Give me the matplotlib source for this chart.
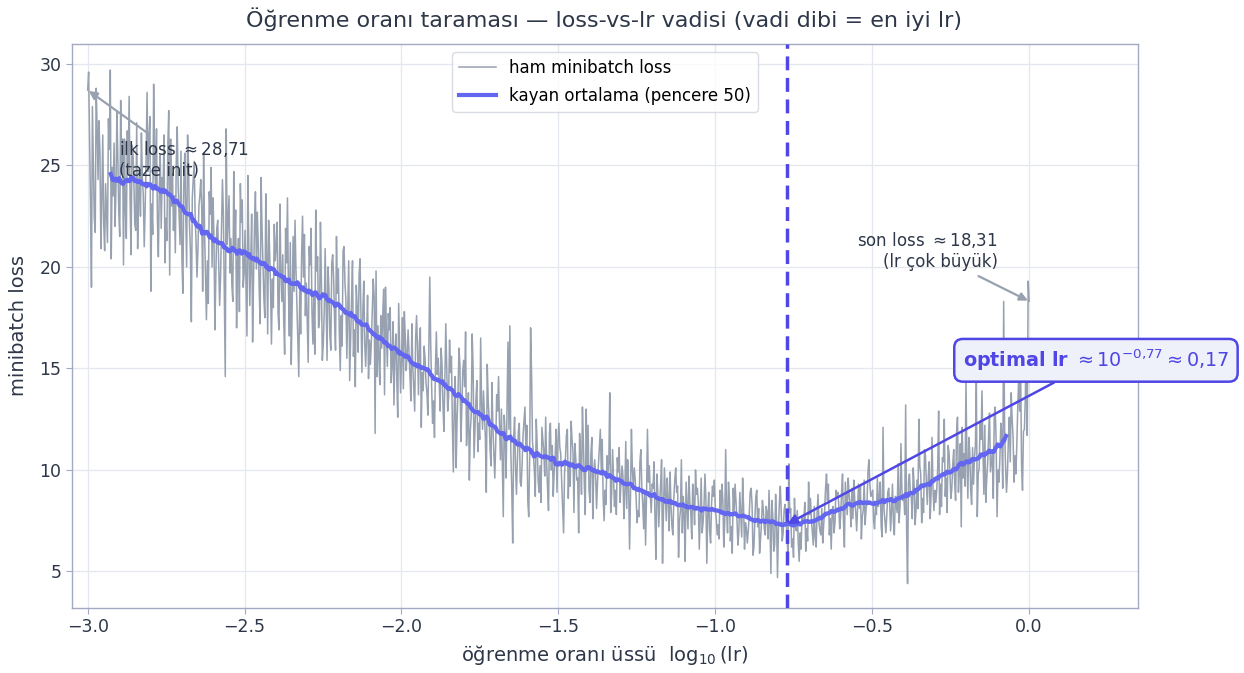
import numpy as np
import matplotlib
matplotlib.use("Agg")
import matplotlib.pyplot as plt

# raw minibatch loss along the lr sweep (log10 lr from -3 to 0)
loss_raw = [
    28.71, 29.6, 26.4, 23.1, 19.0, 27.9, 25.2, 22.4, 21.7, 28.8, 26.9, 24.3, 27.2, 25.6, 20.9, 23.4, 26.5, 22.1, 20.8, 24.1,
    22.6, 21.2, 27.3, 25.8, 29.7, 20.4, 24.9, 23.5, 26.1, 22.0, 23.8, 27.6, 25.4, 22.7, 21.5, 28.2, 24.6, 26.3, 20.1, 26.3,
    22.8, 21.4, 26.7, 25.1, 28.4, 23.3, 20.6, 26.0, 25.7, 24.2, 22.1, 21.8, 27.1, 20.9, 23.6, 24.8, 22.5, 26.6, 24.4, 23.5,
    21.0, 22.9, 25.3, 28.6, 24.7, 26.2, 27.4, 18.8, 23.1, 21.6, 29.0, 25.0, 24.1, 26.8, 22.3, 20.5, 23.9, 25.5, 21.9, 24.4,
    23.8, 26.5, 20.2, 22.4, 21.3, 25.9, 27.7, 19.6, 26.3, 23.0, 24.6, 21.8, 23.5, 20.7, 25.2, 26.9, 24.0, 22.6, 21.1, 25.7,
    20.4, 18.7, 24.1, 25.6, 22.9, 20.0, 26.5, 25.0, 22.1, 20.8, 17.3, 23.4, 24.3, 25.2, 22.6, 21.2, 19.5, 20.9, 23.0, 23.5,
    24.3, 22.9, 18.8, 25.6, 21.8, 19.5, 17.4, 20.3, 18.2, 23.7, 22.6, 24.9, 20.0, 23.4, 21.4, 16.9, 19.6, 21.9, 22.3, 20.1,
    18.1, 19.5, 21.8, 24.3, 22.6, 18.8, 14.6, 26.8, 21.1, 22.3, 23.5, 19.7, 21.4, 19.1, 18.3, 24.7, 20.9, 22.8, 17.0, 20.2,
    21.4, 17.8, 24.1, 22.2, 23.3, 19.0, 19.7, 21.8, 19.3, 16.6, 24.5, 20.9, 18.1, 20.2, 22.6, 16.3, 19.4, 22.0, 23.7, 19.9,
    22.7, 21.1, 18.9, 17.2, 24.4, 21.9, 20.2, 18.4, 17.5, 23.6, 20.5, 16.7, 22.3, 20.8, 19.1, 16.2, 19.4, 18.0, 22.1, 20.3,
    21.0, 22.2, 17.7, 16.9, 23.1, 19.8, 18.3, 20.6, 17.4, 15.7, 21.9, 20.2, 23.4, 19.0, 16.6, 21.2, 15.2, 18.1, 21.5, 18.8,
    22.3, 19.9, 18.1, 16.4, 14.6, 18.8, 16.7, 20.6, 22.5, 19.5, 21.6, 17.6, 19.2, 17.2, 15.3, 21.0, 20.1, 21.9, 17.8, 16.2,
    18.6, 15.7, 22.8, 19.8, 20.5, 17.0, 17.4, 22.2, 19.3, 15.4, 16.2, 17.8, 20.9, 18.1, 15.4, 20.0, 18.9, 16.6, 15.9, 20.2,
    20.6, 19.4, 17.3, 15.9, 21.5, 18.7, 19.9, 16.8, 14.9, 17.6, 16.1, 20.8, 21.0, 19.2, 18.4, 15.5, 17.9, 20.3, 14.4, 16.5,
    18.4, 20.3, 15.6, 16.9, 14.1, 19.1, 18.0, 15.8, 19.6, 20.4, 17.5, 14.8, 17.9, 19.3, 16.2, 15.1, 16.7, 18.6, 14.5, 16.4,
    15.2, 16.3, 17.8, 19.4, 18.5, 11.8, 19.8, 14.6, 17.1, 15.5, 14.2, 17.6, 16.0, 17.4, 18.9, 13.7, 19.0, 16.8, 15.1, 17.7,
    16.9, 18.0, 14.3, 15.1, 17.3, 13.2, 15.8, 16.7, 14.5, 12.6, 18.2, 16.1, 13.8, 15.4, 17.5, 14.0, 17.8, 16.6, 14.9, 15.7,
    16.9, 15.8, 14.6, 13.4, 17.2, 15.1, 14.0, 12.9, 16.5, 17.6, 15.9, 13.7, 16.3, 17.0, 12.1, 14.8, 13.9, 16.1, 15.5, 14.3,
    13.8, 12.7, 15.9, 19.5, 16.2, 14.1, 12.3, 13.4, 11.6, 15.0, 16.8, 14.7, 15.5, 14.3, 12.9, 16.0, 15.2, 13.2, 11.9, 14.4,
    17.2, 15.1, 12.9, 13.6, 16.4, 14.8, 15.6, 12.2, 9.9, 13.3, 14.6, 10.1, 12.5, 13.9, 16.0, 15.2, 11.4, 13.0, 14.9, 15.4,
    14.1, 16.8, 11.2, 12.4, 13.8, 9.5, 11.9, 12.7, 16.7, 15.0, 10.6, 12.0, 13.5, 14.4, 10.9, 12.3, 11.5, 16.5, 13.2, 12.0,
    13.9, 12.8, 11.6, 8.9, 15.2, 13.4, 12.5, 11.0, 10.2, 14.3, 12.1, 10.8, 9.6, 11.3, 13.7, 12.9, 14.6, 12.2, 10.5, 13.0,
    10.4, 7.7, 12.7, 11.8, 9.6, 13.2, 16.3, 12.0, 17.1, 10.9, 9.1, 6.4, 11.5, 12.6, 10.1, 8.8, 10.5, 11.9, 12.3, 9.4,
    9.2, 10.3, 11.7, 12.4, 13.1, 11.0, 12.2, 8.5, 7.7, 10.6, 17.0, 14.8, 11.4, 10.8, 9.9, 8.7, 12.5, 11.2, 9.5, 8.9,
    10.2, 8.4, 12.1, 11.5, 10.9, 9.7, 12.6, 10.4, 9.1, 8.0, 11.8, 12.3, 10.0, 11.2, 8.7, 9.9, 10.6, 12.0, 8.9, 11.4,
    12.3, 11.1, 10.8, 9.4, 8.2, 6.9, 9.8, 10.6, 11.7, 12.0, 8.6, 10.3, 9.2, 12.4, 11.5, 10.9, 7.9, 11.3, 10.5, 9.5,
    9.6, 6.9, 11.8, 10.7, 8.8, 13.1, 11.4, 9.3, 7.8, 13.0, 10.1, 12.2, 9.0, 8.4, 10.8, 11.6, 7.6, 9.9, 10.5, 9.7,
    8.1, 9.4, 10.3, 11.2, 12.0, 10.0, 11.5, 8.6, 7.5, 9.0, 8.3, 10.7, 9.8, 10.4, 13.8, 7.9, 8.8, 11.0, 9.6, 8.2,
    9.0, 7.8, 10.6, 9.9, 11.1, 8.4, 9.5, 10.2, 9.7, 7.6, 8.9, 11.4, 8.1, 10.5, 9.3, 6.1, 8.7, 12.0, 10.0, 9.2,
    10.1, 9.5, 8.6, 7.4, 8.0, 7.7, 10.4, 11.0, 9.2, 8.3, 7.1, 9.0, 6.3, 8.7, 12.0, 9.4, 10.2, 8.8, 7.9, 9.3,
    9.1, 10.4, 7.6, 5.6, 9.8, 8.9, 7.2, 8.4, 9.3, 10.5, 5.4, 8.0, 10.1, 8.8, 7.5, 9.6, 8.6, 7.0, 9.9, 8.2,
    7.2, 6.8, 8.6, 9.5, 10.1, 8.9, 9.2, 5.7, 7.5, 8.0, 10.5, 6.9, 8.7, 7.8, 5.5, 9.4, 8.3, 7.1, 9.7, 8.4,
    7.9, 6.6, 9.3, 8.5, 7.3, 10.0, 8.8, 9.1, 8.4, 6.1, 7.7, 9.6, 6.9, 7.4, 8.2, 9.8, 8.6, 5.4, 7.8, 8.9,
    7.0, 6.4, 8.3, 9.2, 8.7, 9.5, 8.1, 7.6, 6.8, 7.3, 6.6, 9.0, 7.9, 9.3, 8.5, 6.2, 7.4, 11.0, 8.0, 6.9,
    9.4, 8.6, 6.5, 7.2, 5.9, 9.1, 8.0, 9.3, 8.4, 7.5, 6.3, 7.0, 8.9, 7.8, 6.7, 9.6, 8.2, 6.1, 7.4, 7.1,
    6.4, 7.0, 7.8, 8.9, 9.1, 8.3, 5.8, 6.2, 7.6, 8.7, 9.0, 7.2, 8.1, 5.9, 6.6, 7.4, 8.5, 8.0, 7.1, 6.8,
    8.2, 7.9, 6.6, 9.0, 7.4, 4.9, 8.5, 7.7, 6.0, 6.3, 8.8, 7.5, 4.7, 7.1, 8.4, 9.2, 7.8, 6.5, 6.9, 8.0,
    8.3, 7.6, 6.8, 5.9, 10.3, 7.9, 8.1, 6.2, 6.6, 5.7, 8.6, 7.3, 7.0, 8.0, 6.4, 5.5, 6.9, 6.1, 7.7, 7.4,
    7.6, 8.4, 6.0, 7.1, 6.5, 9.4, 7.8, 8.6, 7.5, 6.9, 6.3, 8.2, 6.7, 6.2, 7.9, 8.8, 7.4, 7.0, 6.8, 8.1,
    6.4, 7.3, 8.0, 9.1, 9.8, 8.5, 9.3, 6.8, 7.6, 6.1, 7.9, 8.2, 6.9, 7.4, 9.0, 8.7, 8.9, 8.3, 7.1, 7.7,
    8.9, 9.8, 7.5, 6.2, 9.4, 8.6, 7.8, 9.6, 8.8, 8.3, 7.2, 9.1, 7.6, 9.5, 8.5, 7.9, 7.0, 8.2, 9.3, 8.1,
    9.2, 6.6, 7.7, 8.0, 9.5, 7.3, 8.1, 8.4, 9.9, 10.5, 9.3, 8.7, 8.8, 9.0, 7.5, 7.1, 8.3, 7.8, 9.6, 8.2,
    8.6, 9.4, 7.2, 6.7, 12.1, 8.1, 7.5, 6.9, 7.8, 8.9, 9.1, 8.4, 7.0, 8.0, 9.3, 7.4, 6.8, 8.7, 8.3, 7.9,
    10.3, 7.4, 8.2, 11.3, 9.0, 8.5, 8.8, 7.8, 13.2, 7.1, 4.4, 9.4, 9.8, 8.9, 8.6, 7.6, 10.1, 9.2, 7.3, 8.0,
    9.5, 8.1, 12.5, 10.2, 9.8, 7.4, 8.6, 7.9, 11.0, 10.7, 9.3, 8.3, 9.7, 10.4, 7.6, 8.8, 11.6, 9.1, 8.0, 9.0,
    8.4, 9.0, 10.1, 12.9, 7.8, 9.3, 8.2, 10.6, 10.4, 12.5, 8.7, 9.6, 7.9, 11.2, 10.9, 9.8, 8.6, 9.1, 10.3, 11.0,
    9.4, 8.5, 11.8, 12.6, 8.9, 10.0, 11.3, 7.2, 12.1, 9.6, 10.8, 9.2, 14.3, 10.5, 8.6, 11.6, 10.9, 9.0, 8.3, 11.1,
    9.3, 10.6, 11.2, 14.3, 7.7, 9.8, 10.1, 12.4, 11.5, 13.9, 11.0, 8.8, 12.2, 8.4, 9.5, 10.3, 11.7, 12.8, 9.9, 10.4,
    10.9, 8.6, 12.7, 13.1, 11.4, 7.7, 10.0, 9.4, 10.6, 12.3, 11.8, 9.1, 18.3, 12.0, 10.2, 8.9, 9.8, 11.5, 12.6, 10.4,
    13.8, 12.5, 11.6, 9.4, 10.7, 9.8, 11.3, 13.2, 14.6, 12.9, 15.1, 10.2, 9.0, 11.9, 12.0, 13.6, 16.4, 11.7, 19.3, 18.31,
]
lr_exp_start, lr_exp_end = -3.0, 0.0
window = 50
opt_exp = -0.77   # chosen lr exponent (valley bottom)

loss_raw = np.array(loss_raw)
lr_exp = np.linspace(lr_exp_start, lr_exp_end, len(loss_raw))
kernel = np.ones(window) / window
loss_ma = np.convolve(loss_raw, kernel, mode="valid")
lr_exp_ma = np.convolve(lr_exp, kernel, mode="valid")

TXT = "#2d3748"
RAW = "#97a1b0"
MA = "#6366f1"
OPT = "#4f46e5"
GRID = "#e3e7ee"
SPINE = "#a3a9c2"


def tr(v):
    return f"{v:.2f}".replace(".", ",")


fig = plt.figure(figsize=(12.44, 6.73), dpi=100)
ax = fig.add_axes([72 / 1244, 1 - 608 / 673, (1138 - 72) / 1244, (608 - 44) / 673])

ax.plot(lr_exp, loss_raw, color=RAW, lw=1.1, label="ham minibatch loss", zorder=2)
ax.plot(lr_exp_ma, loss_ma, color=MA, lw=3.0, label="kayan ortalama (pencere 50)", zorder=3)
ax.axvline(opt_exp, color=OPT, lw=2.5, ls=(0, (4, 2.2)), zorder=4)

ax.set_xlim(-3.05, 0.347)
ax.set_ylim(3.2, 30.98)
ax.grid(True, color=GRID, lw=0.9)
ax.set_axisbelow(True)
for s in ax.spines.values():
    s.set_color(SPINE)
    s.set_linewidth(1.0)
ax.tick_params(colors=TXT, labelsize=12.5, length=4, color=SPINE)

ax.set_xlabel(r"öğrenme oranı üssü  $\log_{10}$(lr)", fontsize=14, color=TXT, labelpad=5)
ax.set_ylabel("minibatch loss", fontsize=14, color=TXT, labelpad=8)
fig.text(0.4855, 0.972, "Öğrenme oranı taraması — loss-vs-lr vadisi (vadi dibi = en iyi lr)",
         ha="center", va="center", fontsize=16, color=TXT)

leg = ax.legend(loc="upper center", fontsize=12, frameon=True, fancybox=True,
                borderaxespad=0.5, handlelength=2.2, labelspacing=0.6)
leg.get_frame().set_edgecolor("#d0d4dc")

# first / last point notes
ax.annotate(f"ilk loss $\\approx${tr(loss_raw[0])}\n(taze init)",
            xy=(lr_exp[0], loss_raw[0]), xytext=(-2.9, 25.3),
            ha="left", va="center", fontsize=12, color=TXT,
            bbox=dict(boxstyle="round,pad=0.3", fc="none", ec="none"),
            arrowprops=dict(arrowstyle="-|>", color=RAW, lw=1.6, shrinkA=0, shrinkB=1))
ax.annotate(f"son loss $\\approx${tr(loss_raw[-1])}\n(lr çok büyük)",
            xy=(lr_exp[-1], loss_raw[-1]), xytext=(-0.1, 20.8),
            ha="right", va="center", fontsize=12, color=TXT,
            bbox=dict(boxstyle="round,pad=0.3", fc="none", ec="none"),
            arrowprops=dict(arrowstyle="-|>", color=RAW, lw=1.6, shrinkA=0, shrinkB=1))

# optimal lr callout
opt_y = np.interp(opt_exp, lr_exp_ma, loss_ma)
opt_lr = 10 ** opt_exp
label = (r"$\mathbf{optimal\ lr}\ \approx 10^{" + f"{opt_exp:.2f}".replace(".", "{,}")
         + r"} \approx " + f"{opt_lr:.2f}".replace(".", "{,}") + "$")
ax.annotate(label, xy=(opt_exp, opt_y), xytext=(0.213, 15.4),
            ha="center", va="center", fontsize=13.8, color=OPT,
            bbox=dict(boxstyle="round,pad=0.45", fc="#eef1f9", ec=OPT, lw=1.8),
            arrowprops=dict(arrowstyle="-|>", color=OPT, lw=1.8, shrinkA=0, shrinkB=0),
            annotation_clip=False, zorder=6)

fig.savefig("out.png", dpi=100)
